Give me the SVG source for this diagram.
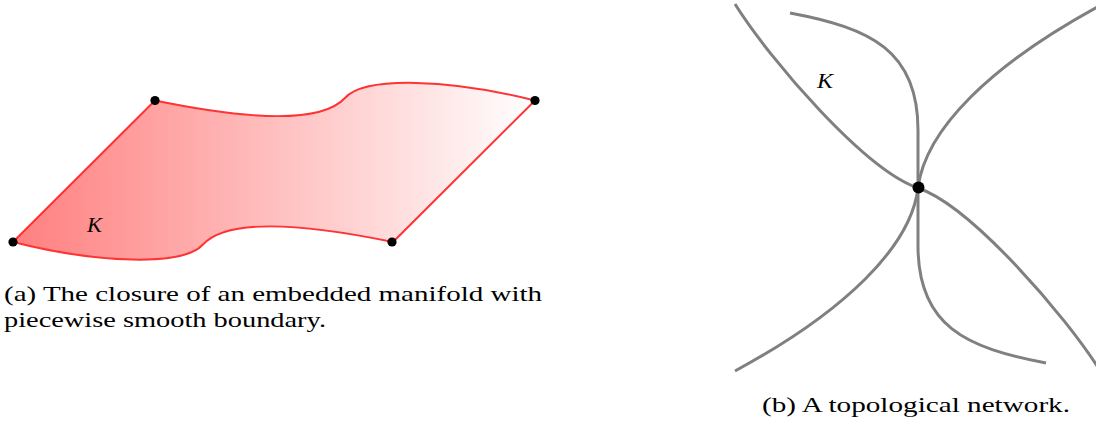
<svg xmlns="http://www.w3.org/2000/svg" width="1096" height="421" viewBox="0 0 1096 421">
  <style>
    .edge { fill: none; stroke: #ff3333; stroke-width: 2; stroke-linejoin: round; }
    .net { fill: none; stroke: #808080; stroke-width: 3; stroke-linecap: butt; }
    .dot { fill: #000; }
  </style>
  <defs>
    <linearGradient id="shade" gradientUnits="userSpaceOnUse" x1="13" y1="0" x2="535" y2="0">
      <stop offset="0" stop-color="#ff7f7f"/>
      <stop offset="1" stop-color="#ffffff"/>
    </linearGradient>
  </defs>

  <g id="manifold">
    <path d="M13,242 L155,100.5 C240,118 320,125 345,98 C365,76 450,79 535,100.5 L393,242 C308,224.5 228,217.5 203,244.5 C183,266.5 98,263.5 13,242 Z" fill="url(#shade)" stroke="none"/>
    <path class="edge" d="M13,242 L155,100.5 C240,118 320,125 345,98 C365,76 450,79 535,100.5 L393,242 C308,224.5 228,217.5 203,244.5 C183,266.5 98,263.5 13,242 Z"/>
    <circle class="dot" cx="13" cy="242" r="4.6"/>
    <circle class="dot" cx="155" cy="100.5" r="4.6"/>
    <circle class="dot" cx="535" cy="100.5" r="4.6"/>
    <circle class="dot" cx="392" cy="242" r="4.6"/>
    <text x="87" y="232" font-family="'Liberation Serif', serif" font-style="italic" font-size="20" textLength="15" lengthAdjust="spacingAndGlyphs">K</text>
  </g>

  <g id="caption-a" font-family="'Liberation Serif', serif" font-size="22" fill="#000">
    <text x="4" y="301" textLength="538" lengthAdjust="spacingAndGlyphs">(a) The closure of an embedded manifold with</text>
    <text x="4" y="327" textLength="322" lengthAdjust="spacingAndGlyphs">piecewise smooth boundary.</text>
  </g>

  <g id="connectors">
    <path class="net" d="M735,4 C770,60 865,170 918,188 C971,206 1066,316 1101,372"/>
    <path class="net" d="M790,13 C870,28 918,50 918,130 L918,246 C918,326 966,348 1046,363"/>
    <path class="net" d="M1101,5 C990,65 925,130 918,188 C911,246 846,311 735,371"/>
  </g>

  <g id="junction">
    <circle class="dot" cx="918.5" cy="187.5" r="6"/>
  </g>

  <g id="network-label">
    <text x="817" y="88" font-family="'Liberation Serif', serif" font-style="italic" font-size="20" textLength="16" lengthAdjust="spacingAndGlyphs">K</text>
  </g>

  <g id="caption-b" font-family="'Liberation Serif', serif" font-size="22" fill="#000">
    <text x="762" y="412" textLength="308" lengthAdjust="spacingAndGlyphs">(b) A topological network.</text>
  </g>
</svg>
